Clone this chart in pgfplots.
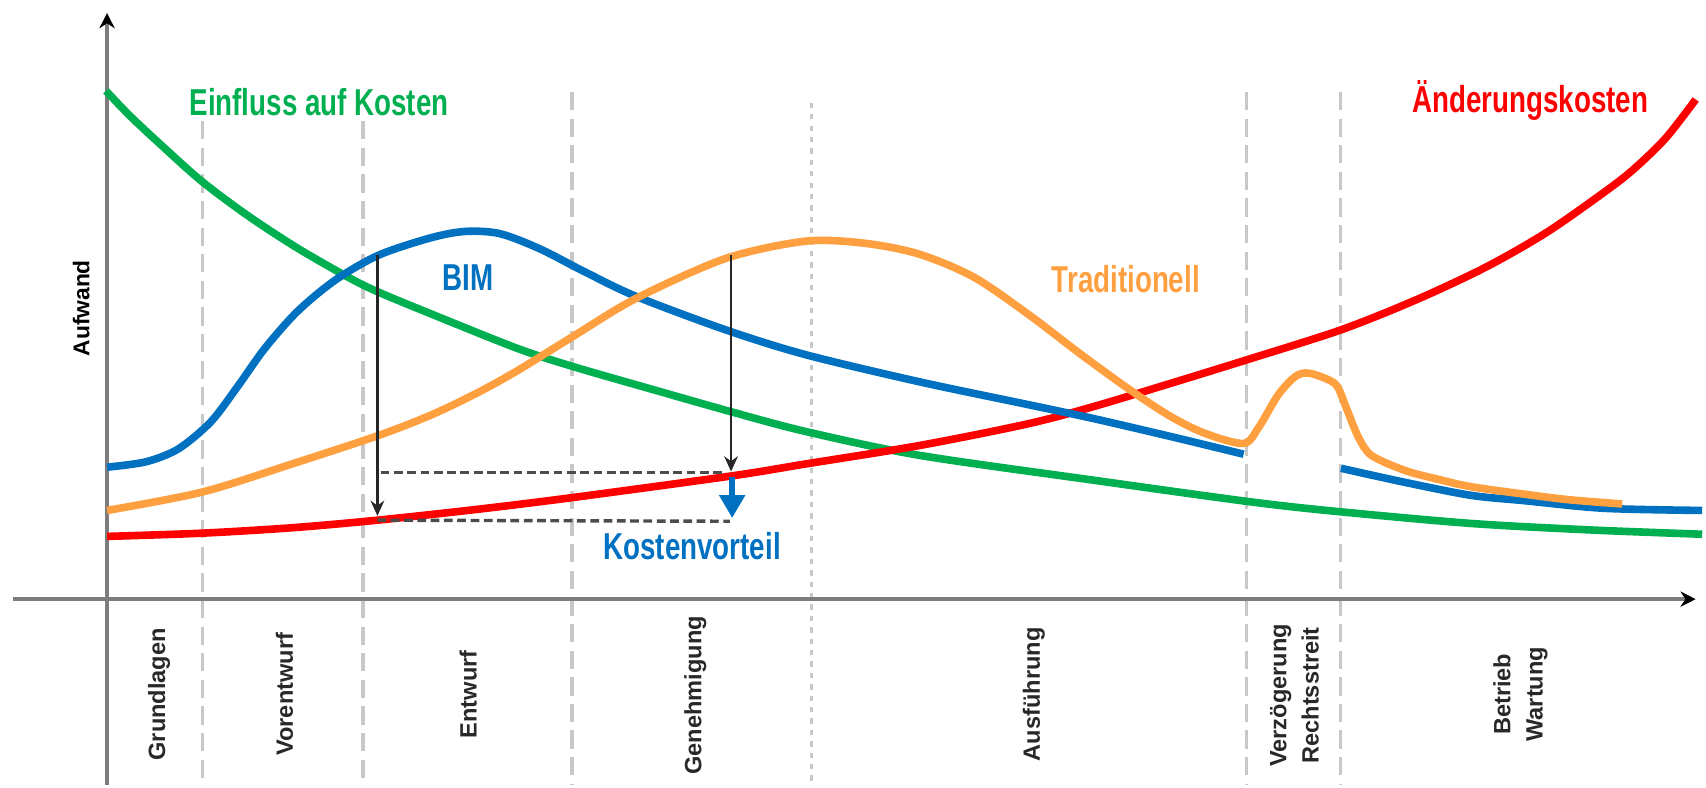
\documentclass[border=0pt]{standalone}
\usepackage{fontspec}
\setmainfont{Liberation Sans}
\usepackage{graphicx}
\usepackage{pgfplots}
\pgfplotsset{compat=1.18}
\usetikzlibrary{arrows.meta}
\definecolor{cgreen}{RGB}{0,176,80}
\definecolor{cblue}{RGB}{0,112,192}
\definecolor{corange}{RGB}{255,160,64}
\definecolor{cred}{RGB}{255,0,0}
\definecolor{cgrid}{RGB}{200,200,200}
\definecolor{caxis}{RGB}{125,125,125}
\definecolor{ctext}{RGB}{40,40,40}
\begin{document}
\begin{tikzpicture}
\begin{axis}[
  width=15.68cm, height=7.26cm, scale only axis,
  xmin=0, xmax=1568, ymin=0, ymax=726, y dir=reverse,
  axis line style={draw=none}, xtick=\empty, ytick=\empty,
  clip=false,
]
% phase separators
\addplot[cgrid, line width=0.9pt, dash pattern=on 4.8pt off 2.2pt] coordinates {(187.5,112) (187.5,726)};
\addplot[cgrid, line width=0.9pt, dash pattern=on 4.8pt off 2.2pt] coordinates {(335.5,112) (335.5,726)};
\addplot[cgrid, line width=0.9pt, dash pattern=on 4.8pt off 2.2pt] coordinates {(529,85) (529,726)};
\addplot[cgrid, line width=0.8pt, dash pattern=on 1.4pt off 1.6pt] coordinates {(750,95) (750,726)};
\addplot[cgrid, line width=0.9pt, dash pattern=on 4.8pt off 2.2pt] coordinates {(1152.5,85) (1152.5,726)};
\addplot[cgrid, line width=0.9pt, dash pattern=on 4.8pt off 2.2pt] coordinates {(1239.5,85) (1239.5,726)};
% axes
\addplot[caxis, line width=1.1pt, -{Stealth[black,length=4pt,width=4pt]}] coordinates {(12,554) (1568,554)};
\addplot[caxis, line width=1.1pt, -{Stealth[black,length=4pt,width=4pt]}] coordinates {(99,726) (99,12)};
% Einfluss auf Kosten
\addplot[cgreen, line width=2pt, smooth] coordinates {
(98,84) (120,107) (150,135) (187,168) (230,200) (276,230) (325,258) (352,271)
(398,290) (478,322) (530,339) (610,362) (677,381) (745,399) (850,421) (1011,444)
(1156,464) (1237,473) (1360,484) (1470,490) (1574,494)};
% Aenderungskosten
\addplot[cred, line width=2pt, smooth] coordinates {
(99,496) (187,493) (270,488) (349,481) (441,471) (530,460) (677,440) (745,429)
(850,412) (950,392) (1011,376) (1084,354) (1152,333) (1240,305) (1310,277)
(1374,247) (1430,215) (1483,178) (1510,157) (1540,128) (1568,92)};
% BIM
\addplot[cblue, line width=2pt, smooth] coordinates {
(99,432) (135,427) (165,415) (195,390) (220,357) (245,322) (275,288) (310,259)
(350,236) (398,220) (430,214) (462,216) (499,230) (540,251) (588,274) (671,305)
(745,328) (850,353) (950,374) (1011,387) (1084,404) (1150,420)};
\addplot[cblue, line width=2pt, smooth] coordinates {
(1240,433) (1299,446) (1360,458) (1410,463) (1483,470) (1574,472)};
% Traditionell
\addplot[corange, line width=2pt, smooth] coordinates {
(99,472) (187,455) (270,429) (349,403) (398,384) (440,364) (478,343) (530,311)
(588,276) (671,239) (745,223) (800,225) (850,235) (900,256) (950,290) (1000,328)
(1047,362) (1084,386) (1115,401) (1150,410) (1164,395) (1182,365) (1198,348)
(1210,345) (1228,351) (1237,358) (1246,380) (1256,404) (1268,421) (1299,435)
(1329,443) (1360,450) (1410,457) (1450,462) (1500,466)};
% cost advantage markers
\addplot[black!85, line width=0.6pt, -{Stealth[length=4pt,width=3.6pt]}] coordinates {(349,236) (349,477)};
\addplot[black!85, line width=0.6pt, -{Stealth[length=4pt,width=3.6pt]}] coordinates {(676,236) (676,436)};
\addplot[black!70, line width=0.9pt, dash pattern=on 2.3pt off 1.2pt] coordinates {(352,437) (671,437)};
\addplot[black!70, line width=0.9pt, dash pattern=on 2.3pt off 1.2pt] coordinates {(349,481) (675,482)};
\addplot[cblue, line width=1.5pt, -{Triangle[length=6pt,width=6.5pt]}] coordinates {(677,441) (677,479)};
% labels
\node[text=cgreen, font=\fontsize{7.3}{8}\selectfont\bfseries] at (axis cs:295,94) {\scalebox{1}[1.35]{Einfluss auf Kosten}};
\node[text=cred, font=\fontsize{7.3}{8}\selectfont\bfseries] at (axis cs:1415,93) {\scalebox{1}[1.35]{Änderungskosten}};
\node[text=cblue, font=\fontsize{7.3}{8}\selectfont\bfseries] at (axis cs:433,257) {\scalebox{1}[1.35]{BIM}};
\node[text=corange, font=\fontsize{7.3}{8}\selectfont\bfseries] at (axis cs:1041,258) {\scalebox{1}[1.35]{Traditionell}};
\node[text=cblue, font=\fontsize{7.3}{8}\selectfont\bfseries] at (axis cs:640,505) {\scalebox{1}[1.35]{Kostenvorteil}};
\node[text=black, rotate=90, font=\fontsize{6}{7}\selectfont\bfseries] at (axis cs:75,285) {Aufwand};
% phases
\node[text=ctext, rotate=90, font=\fontsize{6.2}{8.5}\selectfont\bfseries] at (axis cs:147,642) {Grundlagen};
\node[text=ctext, rotate=90, font=\fontsize{6.2}{8.5}\selectfont\bfseries] at (axis cs:263,642) {Vorentwurf};
\node[text=ctext, rotate=90, font=\fontsize{6.2}{8.5}\selectfont\bfseries] at (axis cs:433,642) {Entwurf};
\node[text=ctext, rotate=90, font=\fontsize{6.2}{8.5}\selectfont\bfseries] at (axis cs:643,643) {Genehmigung};
\node[text=ctext, rotate=90, font=\fontsize{6.2}{8.5}\selectfont\bfseries] at (axis cs:956,642) {Ausführung};
\node[text=ctext, rotate=90, align=center, font=\fontsize{6.2}{8.5}\selectfont\bfseries] at (axis cs:1197,643) {Verzögerung\\Rechtsstreit};
\node[text=ctext, rotate=90, align=center, font=\fontsize{6.2}{8.5}\selectfont\bfseries] at (axis cs:1406,642) {Betrieb\\Wartung};
\end{axis}
\end{tikzpicture}
\end{document}
